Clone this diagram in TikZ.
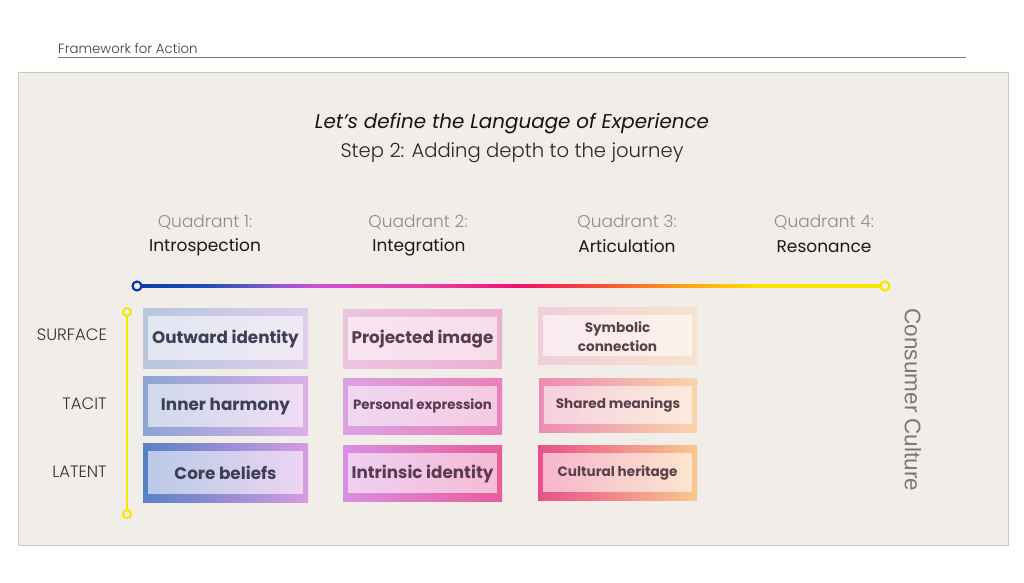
\documentclass[tikz,border=0pt]{standalone}
\usepackage{fontspec}
\setmainfont{Poppins}
\newfontfamily\popL{Poppins Light}
\newfontfamily\popSB{Poppins SemiBold}
\newfontfamily\libsans{Liberation Sans}
\usetikzlibrary{calc}
\definecolor{panel}{HTML}{F1EDE9}
\definecolor{panelborder}{HTML}{C9C9C0}
\definecolor{jblue}{HTML}{0A3DA8}
\definecolor{jyellow}{HTML}{F5E800}
\definecolor{txtA}{HTML}{3C3F55}
\definecolor{txtB}{HTML}{5A3A50}
\definecolor{txtC}{HTML}{5A4048}
\pgfdeclarehorizontalshading{journey}{100bp}{color(0bp)=(jblue); color(25bp)=(jblue); color(30bp)=(jblue!90!white); color(33.5bp)=({rgb,255:red,122;green,90;blue,208}); color(37bp)=({rgb,255:red,208;green,80;blue,208}); color(44bp)=({rgb,255:red,232;green,64;blue,168}); color(50.5bp)=({rgb,255:red,240;green,16;blue,112}); color(56bp)=({rgb,255:red,248;green,80;blue,48}); color(61.5bp)=({rgb,255:red,252;green,160;blue,24}); color(66.5bp)=({rgb,255:red,253;green,224;blue,0}); color(75bp)=(jyellow); color(100bp)=(jyellow)}
\tikzset{
  cellbox/.style={draw=none, inner sep=0pt, shade, shading angle=90},
  cellinner/.style={fill=white, fill opacity=0.58},
  celltxt/.style={font=\bfseries\fontsize{16.8}{19}\selectfont, align=center},
  celltxtsm/.style={font=\bfseries\fontsize{13.6}{19.5}\selectfont, align=center},
  quadnum/.style={font=\popL\fontsize{17}{20}\selectfont, text={rgb,255:red,140;green,140;blue,140}},
  quadname/.style={font=\fontsize{17}{20}\selectfont, text={rgb,255:red,25;green,25;blue,25}},
  rowlbl/.style={font=\popL\fontsize{16.5}{19}\selectfont, text={rgb,255:red,50;green,50;blue,50}, anchor=east, inner sep=0pt},
  dot/.style={circle, inner sep=0pt, minimum size=9pt, fill=panel, line width=2.2pt}
}
\newcommand{\cell}[7]{% name, x, y, w, h, leftcol, rightcol
  \node[cellbox, minimum width=#4pt, minimum height=#5pt, left color=#6, right color=#7] (#1) at (#2,#3) {};
  \fill[cellinner] ([shift={(5pt,8pt)}]#1.south west) rectangle ([shift={(-5pt,-8pt)}]#1.north east);
}
\begin{document}
\begin{tikzpicture}[x=1pt,y=-1pt]
\useasboundingbox[fill=white] (0,0) rectangle (1024,582);
% header
\node[font=\popL\fontsize{13.3}{15}\selectfont, text={rgb,255:red,60;green,60;blue,60}, anchor=base west, inner sep=0pt] (hdr) at (58,53.5) {Framework for Action};
\coordinate (ulL) at (58,57.5);
\coordinate (ulR) at (966,57.5);
\draw[line width=0.8pt, color={rgb,255:red,120;green,120;blue,120}] (ulL) -- (ulR);
% panel
\draw[fill=panel, draw=panelborder, line width=0.8pt] (18.5,72.5) rectangle (1008,545);
% titles
\node[font=\itshape\fontsize{19.9}{23}\selectfont, text={rgb,255:red,20;green,20;blue,20}] (t1) at (512,123.5) {Let’s define the Language of Experience};
\node[font=\popL\fontsize{19.6}{23}\selectfont, text={rgb,255:red,40;green,40;blue,40}] (t2) at (512,152.5) {Step 2: Adding depth to the journey};
% quadrants
\node[quadnum] (q1n) at (205,222.5) {Quadrant 1:};
\node[quadname] (q1) at (205,247) {Introspection};
\node[quadnum] (q2n) at (418,222.5) {Quadrant 2:};
\node[quadname] (q2) at (419,247) {Integration};
\node[quadnum] (q3n) at (627,222.5) {Quadrant 3:};
\node[quadname] (q3) at (627,246.5) {Articulation};
\node[quadnum] (q4n) at (824,222.5) {Quadrant 4:};
\node[quadname] (q4) at (824,246.5) {Resonance};
% journey line
\coordinate (jL) at (137,286);
\coordinate (jR) at (885,286);
\shade[shading=journey] (137,284.6) rectangle (885,287.4);
\node[dot, draw=jblue] (jLd) at (jL) {};
\node[dot, draw=jyellow] (jRd) at (jR) {};
% vertical line
\coordinate (vT) at (127,312);
\coordinate (vB) at (127,514);
\draw[jyellow, line width=2.6pt] (vT) -- (vB);
\node[dot, draw=jyellow, minimum size=8pt, line width=2pt] (vTd) at (vT) {};
\node[dot, draw=jyellow, minimum size=8pt, line width=2pt] (vBd) at (vB) {};
% row labels
\node[rowlbl] (rs) at (107,335) {SURFACE};
\node[rowlbl] (rt) at (107,404) {TACIT};
\node[rowlbl] (rl) at (107,472) {LATENT};
% column 1
\cell{c11}{225.5}{338}{165}{60}{{rgb,255:red,184;green,198;blue,222}}{{rgb,255:red,222;green,204;blue,234}}
\node[celltxt, text=txtA] (t11) at ([yshift=-1pt]c11) {Outward identity};
\cell{c12}{225.5}{405.5}{165}{59}{{rgb,255:red,140;green,164;blue,212}}{{rgb,255:red,220;green,176;blue,230}}
\node[celltxt, text=txtA] (t12) at ([yshift=-1pt]c12) {Inner harmony};
\cell{c13}{225.5}{472.5}{165}{59}{{rgb,255:red,88;green,128;blue,198}}{{rgb,255:red,214;green,156;blue,226}}
\node[celltxt, text=txtA] (t13) at (c13) {Core beliefs};
% column 2
\cell{c21}{422.5}{338.5}{159}{59}{{rgb,255:red,236;green,196;blue,222}}{{rgb,255:red,238;green,176;blue,208}}
\node[celltxt, text=txtB] (t21) at ([yshift=-1pt]c21) {Projected image};
\cell{c22}{422.5}{406}{159}{56}{{rgb,255:red,218;green,162;blue,226}}{{rgb,255:red,234;green,128;blue,184}}
\node[celltxtsm, text=txtB, font=\bfseries\fontsize{13.4}{16}\selectfont] (t22) at (c22) {Personal expression};
\cell{c23}{422.5}{473}{159}{56}{{rgb,255:red,216;green,144;blue,226}}{{rgb,255:red,234;green,92;blue,154}}
\node[celltxt, text=txtB] (t23) at ([yshift=-1pt]c23) {Intrinsic identity};
% column 3
\cell{c31}{617.5}{335.5}{159}{57}{{rgb,255:red,240;green,206;blue,220}}{{rgb,255:red,248;green,226;blue,204}}
\node[celltxtsm, text=txtC] (t31) at ([yshift=-1pt]c31) {Symbolic\\connection};
\cell{c32}{618}{405}{158}{54}{{rgb,255:red,236;green,140;blue,180}}{{rgb,255:red,248;green,212;blue,170}}
\node[celltxtsm, text=txtC] (t32) at (c32) {Shared meanings};
\cell{c33}{617.5}{472.5}{159}{55}{{rgb,255:red,232;green,80;blue,140}}{{rgb,255:red,248;green,200;blue,140}}
\node[celltxtsm, text=txtC] (t33) at (c33) {Cultural heritage};
% side label
\node[font=\libsans\fontsize{22.5}{24}\selectfont, text={rgb,255:red,120;green,120;blue,120}, rotate=-90] (cc) at (913,400) {Consumer Culture};
\end{tikzpicture}
\end{document}
